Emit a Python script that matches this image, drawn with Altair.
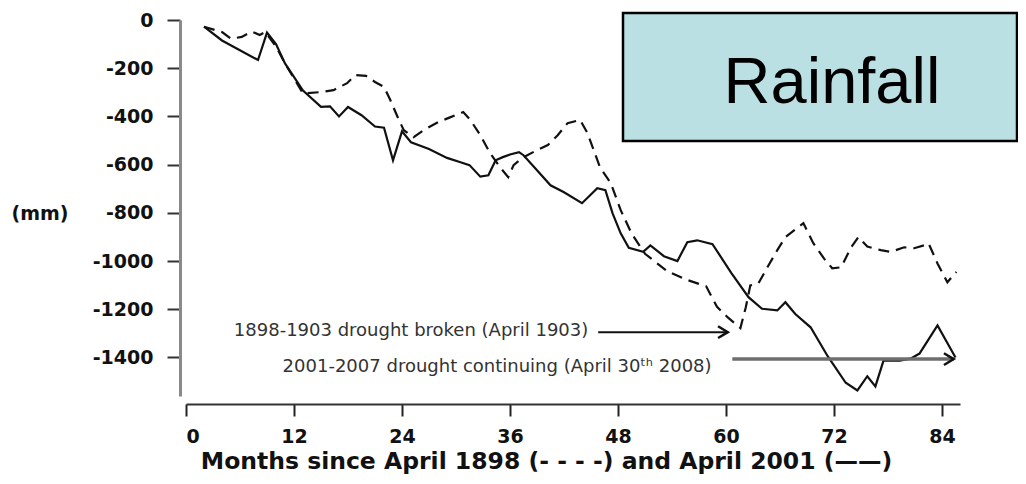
import altair as alt
import pandas as pd

# ---- data ----
solid_months = [2, 4, 8, 9, 10, 11, 13, 15, 16, 17, 18, 19.5, 21, 22, 23, 24, 25, 27, 29,
                30.5, 31.5, 32.7, 33.6, 34.4, 35.2, 36, 37, 37.5, 39, 40.5, 42, 44, 45.7,
                46.6, 47.4, 48.3, 49.2, 50.8, 51.6, 53.1, 54.6, 55.7, 56.8, 58.5, 60.6,
                62.5, 64, 65.7, 66.6, 67.7, 69.4, 71.3, 73.3, 74.6, 75.7, 76.6, 77.5,
                79.3, 80.5, 81.5, 83.5, 85.5]
solid_mm = [-28, -85, -166, -52, -100, -180, -293, -360, -358, -400, -361, -395, -442,
            -447, -582, -462, -507, -535, -572, -590, -602, -650, -644, -582, -569, -558,
            -548, -561, -623, -686, -715, -760, -698, -706, -802, -885, -945, -962, -935,
            -980, -1000, -922, -914, -930, -1050, -1150, -1198, -1205, -1171, -1220,
            -1275, -1395, -1505, -1537, -1478, -1520, -1413, -1413, -1405, -1384, -1267,
            -1400]

dashed_months = [2, 4, 5, 6.2, 7.3, 8.2, 8.8, 10, 11, 13, 15, 16.4, 17.9, 18.8, 20, 21,
                 22, 22.7, 23.6, 24.2, 25.3, 26.4, 28, 29.4, 30.8, 31.6, 32.7, 33.8,
                 34.9, 35.8, 36.4, 37.5, 39, 40.2, 41.3, 42.4, 43.8, 44.6, 46, 47.2,
                 48.3, 49.5, 51, 53.5, 55.8, 57.8, 59, 60.2, 61.6, 62.2, 62.7, 63.6,
                 64.6, 65.7, 66.6, 67.6, 68.6, 69.7, 70.9, 71.8, 72.8, 73.9, 74.7, 75.7,
                 77.2, 78.3, 79.8, 80.9, 82, 82.5, 83.5, 84.6, 85.6]
dashed_mm = [-28, -50, -78, -70, -48, -62, -50, -110, -180, -305, -299, -291, -262, -228,
             -232, -257, -278, -332, -410, -457, -486, -457, -424, -403, -382, -415, -478,
             -553, -611, -652, -602, -569, -540, -519, -478, -428, -415, -469, -611, -677,
             -789, -885, -970, -1043, -1080, -1105, -1190, -1234, -1278, -1192, -1101,
             -1093, -1026, -955, -901, -872, -843, -926, -990, -1030, -1026, -943, -901,
             -940, -955, -962, -943, -947, -935, -926, -1010, -1088, -1045]

x_ticks = [0, 12, 24, 36, 48, 60, 72, 84]
y_ticks = [0, -200, -400, -600, -800, -1000, -1200, -1400]

annot_text = ["1898-1903 drought broken (April 1903)",
              "2001-2007 drought continuing (April 30\u1d57\u02b0 2008)"]
annot_x = [44.7, 58.4]
annot_y = [-1290, -1440]

arrow_x0 = [45.8, 60.7]
arrow_x1 = [60.2, 85.3]
arrow_y = [-1295, -1407]
arrow_color = ["#111111", "#6e6e6e"]
arrow_width = [2, 3.5]

box_label = ["Rainfall"]

# ---- tables ----
solid_df = pd.DataFrame({"month": solid_months, "mm": solid_mm})
dashed_df = pd.DataFrame({"month": dashed_months, "mm": dashed_mm})
annot_df = pd.DataFrame({"label": annot_text, "x": annot_x, "y": annot_y})
arrow_df = pd.DataFrame({"x0": arrow_x0, "x1": arrow_x1, "y": arrow_y,
                         "c": arrow_color, "w": arrow_width})
box_df = pd.DataFrame({"label": box_label})

xscale = alt.Scale(domain=[0, 86], nice=False, zero=False)
yscale = alt.Scale(domain=[-1560, 0], nice=False, zero=False)

x_axis = alt.Axis(values=x_ticks, offset=8, tickSize=12, tickWidth=2, tickColor="#222",
                  domainColor="#333", domainWidth=2, labelPadding=11,
                  labelFont="DejaVu Sans", labelFontSize=19, labelFontWeight="bold",
                  labelColor="#111", grid=False,
                  title="Months since April 1898 (- - - -) and April 2001 (\u2014\u2014)",
                  titleFont="DejaVu Sans", titleFontSize=23.5, titleFontWeight="bold",
                  titleColor="#111", titleX=360, titleY=64, titleAnchor="middle",
                  titleAlign="center", titleBaseline="alphabetic")
y_axis = alt.Axis(values=y_ticks, offset=6, tickSize=13, tickWidth=2, tickColor="#333",
                  domainColor="#8a8a8a", domainWidth=3, labelPadding=14,
                  labelExpr="'' + datum.value",
                  labelFont="DejaVu Sans", labelFontSize=19, labelFontWeight="bold",
                  labelColor="#111", grid=False,
                  title="(mm)", titleFont="DejaVu Sans", titleFontSize=19,
                  titleFontWeight="bold", titleColor="#111", titleAngle=0,
                  titleAlign="left", titleBaseline="middle", titleX=-169, titleY=193)

solid = alt.Chart(solid_df).mark_line(color="#111111", strokeWidth=2.2).encode(
    x=alt.X("month:Q", scale=xscale, axis=x_axis),
    y=alt.Y("mm:Q", scale=yscale, axis=y_axis),
)
dashed = alt.Chart(dashed_df).mark_line(color="#111111", strokeWidth=2.2,
                                        strokeDash=[11, 7]).encode(
    x=alt.X("month:Q", scale=xscale),
    y=alt.Y("mm:Q", scale=yscale),
)

texts = alt.Chart(annot_df).mark_text(align="right", baseline="middle",
                                      font="DejaVu Sans", fontSize=18,
                                      color="#333333").encode(
    x=alt.X("x:Q", scale=xscale), y=alt.Y("y:Q", scale=yscale), text="label:N")

arrows = alt.Chart(arrow_df).mark_rule().encode(
    x=alt.X("x0:Q", scale=xscale), x2="x1:Q", y=alt.Y("y:Q", scale=yscale),
    color=alt.Color("c:N", scale=None), strokeWidth=alt.StrokeWidth("w:Q", scale=None))

heads = alt.Chart(arrow_df).mark_point(shape="M-1,-0.6L0,0L-1,0.6", filled=False,
                                       size=380, strokeWidth=2.5, color="#111111",
                                       opacity=1).encode(
    x=alt.X("x1:Q", scale=xscale), y=alt.Y("y:Q", scale=yscale))

box = alt.Chart(box_df).mark_rect(fill="#bbe0e3", stroke="#000000", strokeWidth=2.5).encode(
    x=alt.value(437), x2=alt.value(831), y=alt.value(-7), y2=alt.value(121))

box_text = alt.Chart(box_df).mark_text(font="Liberation Sans", fontSize=65,
                                       color="#000000", align="center",
                                       baseline="alphabetic").encode(
    x=alt.value(646), y=alt.value(83), text="label:N")

chart = alt.layer(dashed, solid, texts, arrows, heads, box, box_text).properties(
    width=774, height=376,
    autosize=alt.AutoSizeParams(type="none"),
    padding={"left": 178, "top": 12, "right": 58, "bottom": 80},
    background="white",
).configure_view(stroke=None)

chart.save("out.html", embed_options={"renderer": "svg", "actions": False})
